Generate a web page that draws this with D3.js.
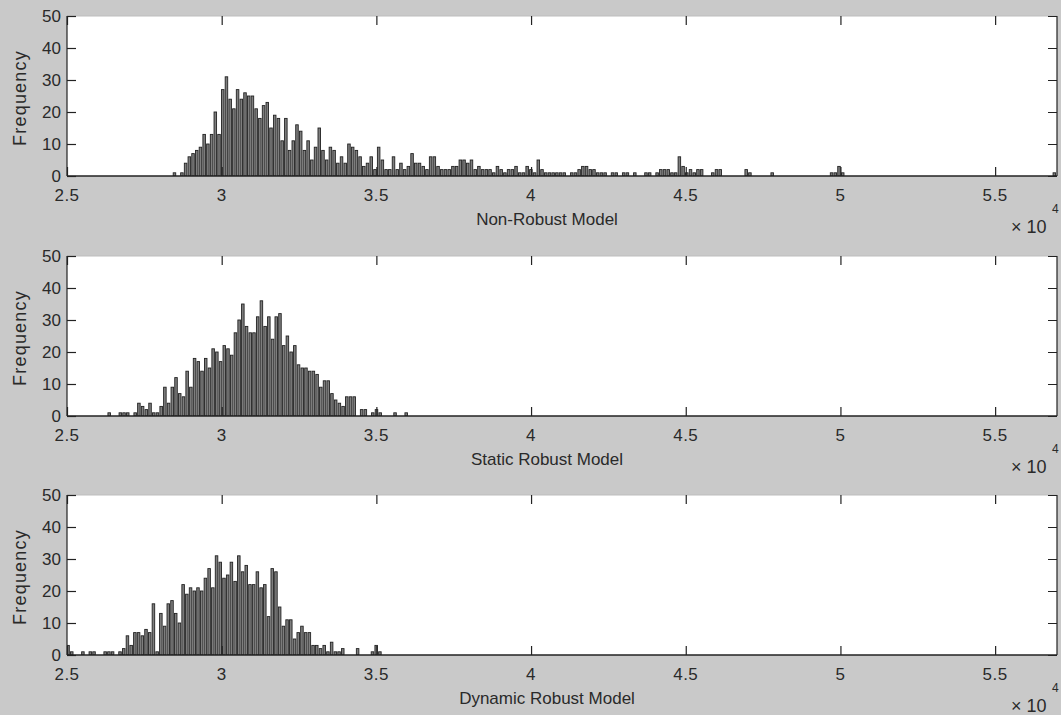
<!DOCTYPE html>
<html><head><meta charset="utf-8">
<script src="https://cdn.jsdelivr.net/npm/d3@7"></script>
<style>
body{margin:0;background:#c9c9c9;}
svg text{font-family:"Liberation Sans",Arial,sans-serif;fill:#2a2a2a;}
</style>
</head><body>
<svg id="chart" width="1061" height="715"></svg>
<script>
// ---- data ----
const binWidth = 120;               // histogram bin width (same units as x)
const xDomain = [25000, 57000];
const xTicks = [25000, 30000, 35000, 40000, 45000, 50000, 55000];
const xTickLabels = ["2.5", "3", "3.5", "4", "4.5", "5", "5.5"];
const yTicks = [0, 10, 20, 30, 40, 50];
const yTickLabels = ["0", "10", "20", "30", "40", "50"];
const panelTitles = ["Non-Robust Model", "Static Robust Model", "Dynamic Robust Model"];

const nonRobustStart = 28480;
const nonRobustCounts = [
 1,0,1,
 4,6,7,8,9,13,10,13,20,13,27,31,24,21,27,24,26,25,25,21,18,22,23,15,19,18,11,18,
 8,11,16,14,8,11,5,9,15,8,5,9,8,4,6,4,10,9,8,6,3,4,6,2,9,5,2,2,6,2,4,2,3,7,4,4,3,
 2,6,6,3,2,2,2,3,3,5,
 5,4,5,2,3,2,2,2,1,3,
 2,1,2,2,3,1,1,3,2,1,
 5,2,1,1,1,1,1,1,0,1,
 1,2,3,3,2,2,1,1,1,0,
 1,1,0,1,1,0,1,0,0,1,
 1,0,1,2,2,2,1,1,6,3,
 1,2,1,2,2,0,0,1,2,2,
 0,0,0,0,0,0,2,1,0,0,
 0,0,0,1,0,0,0,0,0,0,
 0,0,0,0,0,0,0,0,0,1,
 1,3,1,0,0,0,0,0,0,0,
 0,0,0,0,0,0,0,0,0,0,
 0,0,0,0,0,0,0,0,0,0,
 0,0,0,0,0,0,0,0,0,0,
 0,0,0,0,0,0,0,0,0,0,
 0,0,0,0,0,0,0,0,0,1
];

const staticStart = 26370;
const staticCounts = [
 1,0,0,1,1,1,0,1,4,3,
 2,4,1,1,3,9,4,9,12,7,
 6,14,9,18,17,14,18,15,21,20,
 17,22,21,19,26,30,35,28,26,26,
 31,36,28,31,24,31,32,22,25,20,
 22,16,15,15,14,14,13,9,11,11,
 7,5,4,3,6,6,6,0,2,2,
 0,1,2,1,0,0,0,1,0,0,1
];

const dynamicStart = 25040;
const dynamicCounts = [
 3,1,0,0,1,0,1,1,0,0,
 1,1,1,0,1,2,6,3,7,7,
 6,8,7,16,1,13,9,16,17,13,
 10,22,19,21,20,21,20,24,27,21,
 31,29,24,25,29,23,31,26,28,22,
 22,26,21,22,12,27,26,15,9,11,
 11,5,7,9,7,7,3,3,2,3,
 1,4,1,1,2,0,0,0,2,0,
 0,0,1,3,1
];

const panelData = [
  {start: nonRobustStart, counts: nonRobustCounts, title: panelTitles[0]},
  {start: staticStart, counts: staticCounts, title: panelTitles[1]},
  {start: dynamicStart, counts: dynamicCounts, title: panelTitles[2]}
];

// ---- layout ----
const W = 1061, H = 715;
const left = 67, right = 1057, plotH = 160;
const tops = [16, 256, 495];
const tickLen = 9;

const svg = d3.select("#chart");
svg.append("rect").attr("width", W).attr("height", H).attr("fill", "#c9c9c9");

const x = d3.scaleLinear().domain(xDomain).range([left, right]);
const binPx = x(xDomain[0] + binWidth) - x(xDomain[0]);

panelData.forEach((p, k) => {
  const top = tops[k], bottom = top + plotH;
  const y = d3.scaleLinear().domain([0, 50]).range([bottom, top]);
  const g = svg.append("g");

  g.append("rect").attr("x", left).attr("y", top)
    .attr("width", right - left).attr("height", plotH).attr("fill", "#fff");

  const clipId = "clip" + k;
  svg.append("clipPath").attr("id", clipId).append("rect")
    .attr("x", left).attr("y", top).attr("width", right - left).attr("height", plotH);

  const bins = p.counts.map((c, i) => ({center: p.start + i * binWidth, count: c}))
    .filter(d => d.count > 0);

  g.append("g").attr("clip-path", `url(#${clipId})`)
    .selectAll("rect").data(bins).join("rect")
    .attr("x", d => x(d.center) - binPx / 2 + 0.4)
    .attr("y", d => y(d.count))
    .attr("width", binPx * 0.68)
    .attr("height", d => bottom - y(d.count))
    .attr("fill", "#7e7e7e")
    .attr("stroke", "#222")
    .attr("stroke-width", 0.9);

  // box
  g.append("line").attr("x1", left).attr("x2", left).attr("y1", top).attr("y2", bottom)
    .attr("stroke", "#222").attr("stroke-width", 1.2);
  g.append("line").attr("x1", right).attr("x2", right).attr("y1", top).attr("y2", bottom)
    .attr("stroke", "#222").attr("stroke-width", 1.2);
  g.append("line").attr("x1", left).attr("x2", right).attr("y1", bottom).attr("y2", bottom)
    .attr("stroke", "#222").attr("stroke-width", 1.5);
  g.append("line").attr("x1", left).attr("x2", right).attr("y1", top).attr("y2", top)
    .attr("stroke", "#bdbdbd").attr("stroke-width", 1);

  // axes via d3 (inward ticks)
  const yAxisL = d3.axisRight(y).tickValues(yTicks).tickSize(tickLen).tickFormat("");
  const ga = g.append("g").attr("transform", `translate(${left},0)`).call(yAxisL);
  ga.select(".domain").remove();
  ga.selectAll("line").attr("stroke", "#222").attr("stroke-width", 1.2);
  const yAxisR = d3.axisLeft(y).tickValues(yTicks).tickSize(tickLen).tickFormat("");
  const gr = g.append("g").attr("transform", `translate(${right},0)`).call(yAxisR);
  gr.select(".domain").remove();
  gr.selectAll("line").attr("stroke", "#222");

  const xAxisB = d3.axisTop(x).tickValues(xTicks).tickSize(tickLen).tickFormat("");
  const gb = g.append("g").attr("transform", `translate(0,${bottom})`).call(xAxisB);
  gb.select(".domain").remove();
  gb.selectAll("line").attr("stroke", "#222").attr("stroke-width", 1.2);
  const xAxisT = d3.axisBottom(x).tickValues(xTicks).tickSize(tickLen).tickFormat("");
  const gt = g.append("g").attr("transform", `translate(0,${top})`).call(xAxisT);
  gt.select(".domain").remove();
  gt.selectAll("line").attr("stroke", "#222").attr("stroke-width", 1.2);

  // y tick labels
  g.selectAll(".ylab").data(yTicks).join("text")
    .attr("x", left - 6).attr("y", d => y(d))
    .attr("text-anchor", "end").attr("dominant-baseline", "central")
    .attr("font-size", 17)
    .text((d, i) => yTickLabels[i]);

  // x tick labels
  g.selectAll(".xlab").data(xTicks).join("text")
    .attr("x", d => x(d)).attr("y", bottom + 19)
    .attr("text-anchor", "middle").attr("dominant-baseline", "central")
    .attr("font-size", 17).attr("letter-spacing", 0.5)
    .text((d, i) => xTickLabels[i]);

  // y title
  g.append("text")
    .attr("transform", `translate(20,${top + 82}) rotate(-90)`)
    .attr("text-anchor", "middle").attr("dominant-baseline", "central")
    .attr("font-size", 18).attr("letter-spacing", 1.2)
    .text("Frequency");

  // x title
  g.append("text")
    .attr("x", 547).attr("y", bottom + 43)
    .attr("text-anchor", "middle").attr("dominant-baseline", "central")
    .attr("font-size", 17)
    .text(p.title);

  // exponent
  g.append("text").attr("x", 1011).attr("y", bottom + 51)
    .attr("dominant-baseline", "central").attr("font-size", 18)
    .text("\u00d7 10");
  g.append("text").attr("x", 1052).attr("y", bottom + 33)
    .attr("dominant-baseline", "central").attr("font-size", 12)
    .text("4");
});
</script>
</body></html>
